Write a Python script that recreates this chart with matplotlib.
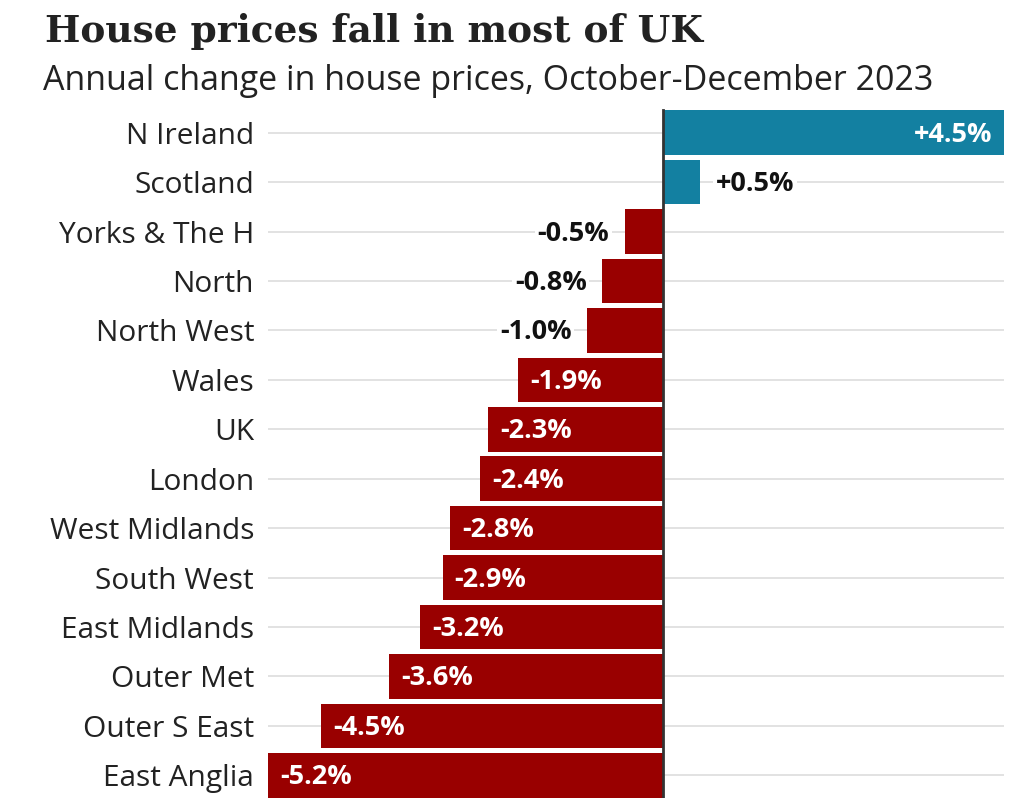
import matplotlib.pyplot as plt

regions = ['N Ireland', 'Scotland', 'Yorks & The H', 'North', 'North West', 'Wales', 'UK',
           'London', 'West Midlands', 'South West', 'East Midlands', 'Outer Met',
           'Outer S East', 'East Anglia']
change = [4.5, 0.5, -0.5, -0.8, -1.0, -1.9, -2.3, -2.4, -2.8, -2.9, -3.2, -3.6, -4.5, -5.2]

blue = '#1380a1'
red = '#990000'

fig = plt.figure(figsize=(10.27, 7.98), dpi=100)
ax = fig.add_axes([268 / 1027, -2 / 798, (1004 - 268) / 1027, (800 - 108) / 798])

y = list(range(len(regions)))
colors = [blue if v > 0 else red for v in change]

for yi in y:
    ax.axhline(yi, color='#dddddd', lw=1.2, zorder=0)

ax.barh(y, change, height=0.9, color=colors, zorder=2)
ax.axvline(0, ymax=(13.5 + 0.45) / 14, color='#333333', lw=2, zorder=3)

lab = dict(fontsize=19.5, fontweight='bold', family='Open Sans', va='center', zorder=4)
box = dict(facecolor='white', edgecolor='none', pad=2)
for yi, v in zip(y, change):
    txt = f'{v:+.1f}%'
    yt = yi + 0.04
    if v > 0:
        if v > 1:
            ax.text(v - 0.15, yt, txt, ha='right', color='white', **lab)
        else:
            ax.text(v + 0.2, yt, txt, ha='left', color='#111111', bbox=box, **lab)
    else:
        if v > -1.5:
            ax.text(v - 0.2, yt, txt, ha='right', color='#111111', bbox=box, **lab)
        else:
            ax.text(v + 0.16, yt, txt, ha='left', color='white', **lab)

ax.set_xlim(-5.2, 4.5)
ax.set_ylim(13.5, -0.5)
ax.set_yticks(y)
ax.set_yticklabels(regions, fontsize=21.5, family='Open Sans', color='#222222')
ax.tick_params(axis='y', length=0, pad=10)
ax.set_xticks([])
for s in ax.spines.values():
    s.set_visible(False)

fig.text(45 / 1027, 1 - 32 / 798, 'House prices fall in most of UK', fontsize=27,
         fontweight='bold', family='DejaVu Serif', color='#222222', va='center')
fig.text(43 / 1027, 1 - 81 / 798, 'Annual change in house prices, October-December 2023',
         fontsize=24.5, family='Open Sans', color='#222222', va='center')

fig.savefig('out.png', dpi=100, facecolor='white')
